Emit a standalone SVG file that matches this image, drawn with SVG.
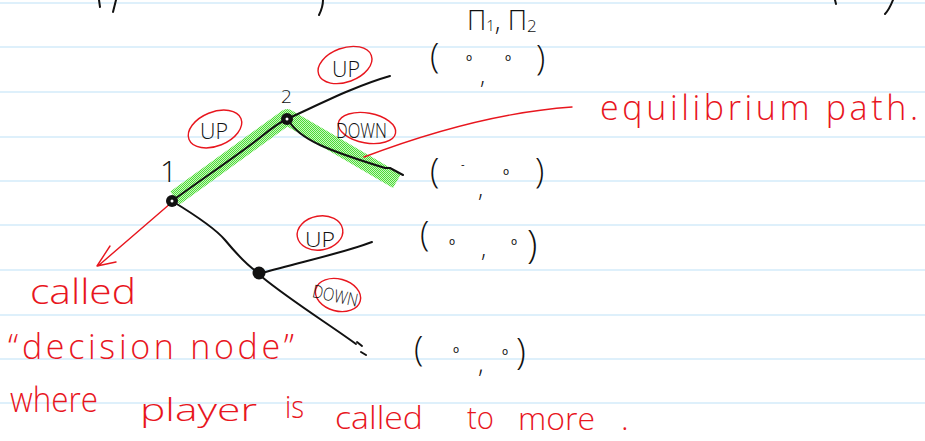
<svg xmlns="http://www.w3.org/2000/svg" width="925" height="441" viewBox="0 0 925 441">
<style>
.rule{stroke:#d3ebfa;stroke-width:1.6}
.ink{fill:none;stroke:#111;stroke-width:2;stroke-linecap:round;stroke-linejoin:round}
.red{fill:none;stroke:#e8161e;stroke-width:1.4;stroke-linecap:round;stroke-linejoin:round}
.hb{font-family:"Open Sans","DejaVu Sans",sans-serif;font-weight:300;fill:#111}
.hr{font-family:"Open Sans","DejaVu Sans",sans-serif;font-weight:300;fill:#e8161e}
.dot{font-family:"DejaVu Sans",sans-serif;font-size:10px;fill:#111}
</style>
<defs>
<pattern id="dither" patternUnits="userSpaceOnUse" width="2" height="2">
<rect width="2" height="2" fill="#c9f7bf"/>
<rect width="1" height="1" fill="#4cdb38"/>
<rect x="1" y="1" width="1" height="1" fill="#4cdb38"/>
</pattern>
</defs>
<rect width="925" height="441" fill="#ffffff"/>
<g id="paper">
<line class="rule" x1="0" y1="3" x2="925" y2="3"/>
<line class="rule" x1="0" y1="47" x2="925" y2="47"/>
<line class="rule" x1="0" y1="92" x2="925" y2="92"/>
<line class="rule" x1="0" y1="137" x2="925" y2="137"/>
<line class="rule" x1="0" y1="181" x2="925" y2="181"/>
<line class="rule" x1="0" y1="225" x2="925" y2="225"/>
<line class="rule" x1="0" y1="270" x2="925" y2="270"/>
<line class="rule" x1="0" y1="315" x2="925" y2="315"/>
<line class="rule" x1="0" y1="359" x2="925" y2="359"/>
<line class="rule" x1="0" y1="403" x2="925" y2="403"/>
</g>
<g id="cutoff-ink" class="ink">
<path d="M99,0 L100,7"/>
<path d="M116,0 L113,12"/>
<path d="M323,0 C323,6 321,11 319,15"/>
<path d="M835,0 L836,4"/>
<path d="M893,0 C891,5 889,10 885,14"/>
</g>
<g id="highlight">
<polyline points="175,198 287,117 397,181" fill="none" stroke="url(#dither)" stroke-width="16" stroke-linejoin="round"/>
</g>
<g id="connectors">
<path class="ink" d="M172,201 C205,177 245,150 262,136 C272,128 280,122 287,119"/>
<path class="ink" d="M287,119 C320,104 355,86 390,76"/>
<path class="ink" d="M289,121 C300,140 330,151 385,168 L390,168 L403,175"/>
<path class="ink" d="M172,201 C195,215 215,228 225,240 C240,258 250,268 259,273"/>
<path class="ink" d="M262,273 C300,262 340,254 372,242"/>
<path class="ink" d="M262,277 C290,300 330,325 356,344"/>
<path class="ink" stroke-width="1.4" d="M357,342 L362,346 M361,352 L366,355"/>
<path class="red" d="M171,203 L98,266 M110,246 L97,266 L116,262"/>
<path class="red" d="M364,157 C430,132 500,112 572,107"/>
</g>
<g id="node1">
<circle cx="172" cy="201" r="6" fill="#111"/>
<circle cx="172" cy="201" r="1.5" fill="#fff"/>
<text class="hb" x="160" y="182" font-size="30">1</text>
</g>
<g id="node2">
<circle cx="287" cy="119" r="6" fill="#111"/>
<circle cx="287" cy="119" r="1.5" fill="#fff"/>
<text class="hb" x="281" y="103" font-size="19">2</text>
</g>
<g id="node3">
<circle cx="259" cy="273" r="6.5" fill="#111"/>
</g>
<g id="labels">
<g id="up1">
<ellipse class="red" cx="215" cy="129" rx="28" ry="17" transform="rotate(-22 215 129)"/>
<text class="hb" x="200" y="139" font-size="22" textLength="28" lengthAdjust="spacingAndGlyphs">UP</text>
</g>
<g id="up2">
<ellipse class="red" cx="345" cy="65" rx="28" ry="17" transform="rotate(-20 345 65)"/>
<text class="hb" x="332" y="77" font-size="22" textLength="28" lengthAdjust="spacingAndGlyphs">UP</text>
</g>
<g id="down2">
<ellipse class="red" cx="367" cy="128" rx="29" ry="15" transform="rotate(10 367 128)"/>
<text class="hb" x="336" y="138" font-size="21" textLength="51" lengthAdjust="spacingAndGlyphs">DOWN</text>
</g>
<g id="up3">
<ellipse class="red" cx="320" cy="233" rx="23" ry="17" transform="rotate(-10 320 233)"/>
<text class="hb" x="305" y="247" font-size="21" textLength="30" lengthAdjust="spacingAndGlyphs">UP</text>
</g>
<g id="down3">
<ellipse class="red" cx="338" cy="295" rx="23" ry="16" transform="rotate(15 338 295)"/>
<text class="hb" x="312" y="302" font-size="18" textLength="46" lengthAdjust="spacingAndGlyphs" transform="rotate(12 335 297)">DOWN</text>
</g>
</g>
<g id="payoffs">
<text class="hb" x="467" y="30" font-size="27">Π<tspan font-size="15" dy="1">1</tspan><tspan dy="-1">,</tspan> Π<tspan font-size="17" dy="2">2</tspan></text>
<g id="payoff1">
<text class="hb" x="430" y="68" font-size="34">(</text>
<text class="dot" x="466" y="61">o</text>
<text class="dot" x="505" y="61">o</text>
<text class="hb" x="480" y="84" font-size="24">,</text>
<text class="hb" x="536" y="70" font-size="34">)</text>
</g>
<g id="payoff2">
<text class="hb" x="430" y="183" font-size="34">(</text>
<text class="dot" x="461" y="168">-</text>
<text class="dot" x="503" y="175">o</text>
<text class="hb" x="478" y="197" font-size="24">,</text>
<text class="hb" x="535" y="183" font-size="34">)</text>
</g>
<g id="payoff3">
<text class="hb" x="420" y="246" font-size="34">(</text>
<text class="dot" x="449" y="245">o</text>
<text class="dot" x="511" y="245">o</text>
<text class="hb" x="481" y="257" font-size="24">,</text>
<text class="hb" x="527" y="258" font-size="38">)</text>
</g>
<g id="payoff4">
<text class="hb" x="414" y="361" font-size="34">(</text>
<text class="dot" x="453" y="353">o</text>
<text class="dot" x="502" y="355">o</text>
<text class="hb" x="478" y="373" font-size="26">,</text>
<text class="hb" x="516" y="364" font-size="36">)</text>
</g>
</g>
<g id="notes">
<text class="hr" x="600" y="120" font-size="34" textLength="318" lengthAdjust="spacing">equilibrium path.</text>
<text class="hr" x="30" y="304" font-size="34" textLength="106" lengthAdjust="spacingAndGlyphs">called</text>
<text class="hr" x="8" y="359" font-size="34" textLength="286" lengthAdjust="spacing">“decision node”</text>
<text class="hr" x="10" y="412" font-size="34" textLength="88" lengthAdjust="spacingAndGlyphs">where</text>
<text class="hr" x="140" y="421" font-size="32" textLength="117" lengthAdjust="spacingAndGlyphs">player</text>
<text class="hr" x="285" y="418" font-size="32" textLength="19" lengthAdjust="spacingAndGlyphs">is</text>
<text class="hr" x="335" y="429" font-size="32" textLength="88" lengthAdjust="spacingAndGlyphs">called</text>
<text class="hr" x="467" y="429" font-size="32" textLength="27" lengthAdjust="spacingAndGlyphs">to</text>
<text class="hr" x="518" y="430" font-size="32" textLength="77" lengthAdjust="spacingAndGlyphs">more</text>
<text class="hr" x="621" y="430" font-size="32">.</text>
</g>
</svg>
